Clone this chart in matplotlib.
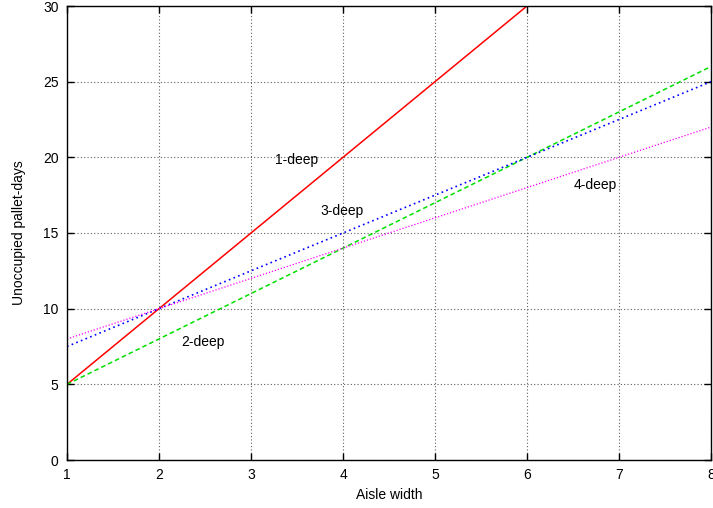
import matplotlib
matplotlib.use('Agg')
import matplotlib.pyplot as plt

# Data
aisle_width = [1, 2, 3, 4, 5, 6, 7, 8]
deep1 = [5, 10, 15, 20, 25, 30, 35, 40]
deep2 = [5, 8, 11, 14, 17, 20, 23, 26]
deep3 = [7.5, 10, 12.5, 15, 17.5, 20, 22.5, 25]
deep4 = [8, 10, 12, 14, 16, 18, 20, 22]

x_ticks = [1, 2, 3, 4, 5, 6, 7, 8]
y_ticks = [0, 5, 10, 15, 20, 25, 30]

plt.rcParams['font.family'] = ['Liberation Sans', 'DejaVu Sans']
plt.rcParams['font.size'] = 10

fig = plt.figure(figsize=(7.13, 5.08), dpi=100)
ax = fig.add_axes([67 / 713, 1 - 460 / 508, 644 / 713, 454 / 508])

ax.plot(aisle_width, deep1, color='#ff0000', lw=1.1, ls='-')
ax.plot(aisle_width, deep2, color='#00e000', lw=1.1, ls=(0, (3, 2)))
ax.plot(aisle_width, deep3, color='#0000ff', lw=1.2, ls=(0, (1, 2)))
ax.plot(aisle_width, deep4, color='#ff00ff', lw=0.9, ls=(0, (1, 1.5)))

# curve labels placed inside the plot like gnuplot does
ax.text(3.49, 19.8, '1-deep', ha='center', va='center')
ax.text(2.48, 7.8, '2-deep', ha='center', va='center')
ax.text(3.99, 16.45, '3-deep', ha='center', va='center')
ax.text(6.74, 18.2, '4-deep', ha='center', va='center')

ax.set_xlim(1, 8)
ax.set_ylim(0, 30)
ax.set_xticks(x_ticks)
ax.set_yticks(y_ticks)
ax.tick_params(direction='in', top=True, right=True, length=5, width=1, pad=6)
ax.grid(True, color='#606060', ls=(0, (1, 2)), lw=0.8)
for s in ax.spines.values():
    s.set_linewidth(1)

ax.set_xlabel('Aisle width', labelpad=4)
ax.set_ylabel('Unoccupied pallet-days', labelpad=12)

fig.savefig('out.png', dpi=100)
